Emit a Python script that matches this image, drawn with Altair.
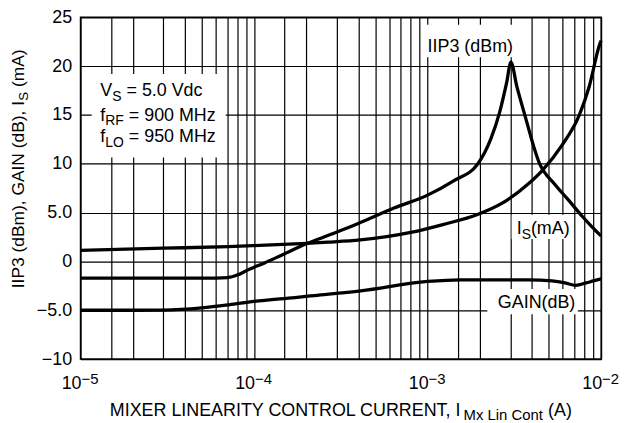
import altair as alt
import pandas as pd

FONT = "Liberation Sans"

# ---------------- data ----------------
iip3_x = [1e-5, 3e-5, 6e-5, 7.1e-5, 8.0e-5, 9.25e-5, 1.15e-4, 1.44e-4, 2.0e-4, 2.8e-4,
          3.95e-4, 6.4e-4, 1.0e-3, 1.42e-3, 1.94e-3, 2.32e-3, 2.6e-3, 2.85e-3, 3.02e-3,
          3.27e-3, 3.64e-3, 4.4e-3, 5.4e-3, 6.4e-3, 7.8e-3, 8.8e-3, 1e-2]
iip3_y = [-1.7, -1.7, -1.7, -1.65, -1.4, -0.85, -0.15, 0.64, 1.8, 2.8,
          3.85, 5.46, 6.79, 8.28, 9.95, 12.6, 15.26, 18.25, 20.4,
          17.9, 14.93, 10.1, 7.9, 6.4, 4.6, 3.6, 2.6]

is_x = [1e-5, 3e-5, 7.1e-5, 1e-4, 2e-4, 2.66e-4, 4.1e-4, 8e-4, 1.24e-3, 1.94e-3,
        2.69e-3, 3.81e-3, 4.56e-3, 5.97e-3, 7.46e-3, 8.54e-3, 9.8e-3, 1e-2]
is_y = [1.14, 1.35, 1.52, 1.62, 1.85, 1.97, 2.2, 2.97, 3.8, 4.8,
        5.96, 7.95, 9.28, 11.94, 14.93, 17.92, 22.2, 22.6]

gain_x = [1e-5, 2e-5, 3e-5, 5e-5, 7.16e-5, 1e-4, 1.72e-4, 2.23e-4, 4.12e-4, 1e-3,
          1.55e-3, 3.8e-3, 5.2e-3, 6.2e-3, 7.14e-3, 8.2e-3, 9e-3, 1e-2]
gain_y = [-5.0, -5.0, -4.98, -4.75, -4.44, -4.1, -3.7, -3.5, -3.02, -2.05,
          -1.88, -1.9, -2.0, -2.2, -2.45, -2.2, -2.0, -1.78]

decades = [1e-5, 1e-4, 1e-3, 1e-2]
exponents = ["\u22125", "\u22124", "\u22123", "\u22122"]
y_ticks = [-10, -5, 0, 5, 10, 15, 20, 25]
grid_mult = [1, 1.5, 2, 3, 4, 5, 6, 7, 8, 9]
x_grid = [m * d for d in decades[:3] for m in grid_mult] + [decades[3]]

# white label boxes (data coordinates)
box_x = [1.16e-5, 9.6e-4, 3.05e-3, 2.21e-3]
box_x2 = [6.87e-5, 3.1e-3, 6.83e-3, 7.34e-3]
box_y = [19.2, 24.23, 4.79, -2.82]
box_y2 = [10.64, 20.91, 2.3, -5.41]

# ---------------- layout ----------------
W, H = 524, 344
xsc = alt.Scale(type="log", domain=[1e-5, 1e-2], nice=False)
ysc = alt.Scale(domain=[-10, 25], nice=False)

grid_kw = dict(grid=True, gridColor="black", gridWidth=1.2, gridOpacity=1,
               ticks=False, domain=False, title=None)
y_label_expr = "datum.value == -5 ? '\u22125.0' : datum.value == 5 ? '5.0' : datum.label"
XAX = alt.Axis(values=x_grid, labels=False, **grid_kw)
YAX = alt.Axis(values=y_ticks, labelFont=FONT, labelFontSize=18, labelColor="black",
               labelPadding=9, labelExpr=y_label_expr, **grid_kw)

ARIAL = {' ': 278, '(': 333, ')': 333, ',': 278, '.': 278, '=': 584, '\u2212': 584,
         'A': 667, 'B': 667, 'C': 722, 'D': 722, 'E': 667, 'F': 611, 'G': 778, 'H': 722,
         'I': 278, 'L': 556, 'M': 833, 'N': 722, 'O': 778, 'P': 667, 'R': 722, 'S': 667,
         'T': 611, 'U': 722, 'V': 667, 'X': 667, 'Y': 667, 'a': 556, 'c': 500, 'd': 556,
         'f': 278, 'i': 222, 'm': 833, 'n': 556, 'o': 556, 't': 278, 'x': 500, 'z': 500}


def tw(s, size):
    return sum(ARIAL.get(c, 556) for c in s) * size / 1000.0


def seg(t, size, dx=0.0, dy=0.0, x=None, y=None, px=None, py=None, angle=0, align="left"):
    df = pd.DataFrame({"x": [x if x is not None else 1e-3],
                       "y": [y if y is not None else 0.0], "t": [t]})
    ex = alt.X("x:Q", scale=xsc, axis=XAX) if px is None else alt.value(px)
    ey = alt.Y("y:Q", scale=ysc, axis=YAX) if py is None else alt.value(py)
    kw = dict(align=align, baseline="alphabetic", font=FONT, fontSize=size,
              color="black", dx=dx, dy=dy)
    if angle:
        kw["angle"] = angle
    return alt.Chart(df).mark_text(**kw).encode(x=ex, y=ey, text="t:N")


def rich(parts, main, sub, sub_dy, center=False, **anchor):
    total = sum(tw(t, sub if s else main) for t, s in parts)
    off = -total / 2 if center else 0.0
    out = []
    for t, s in parts:
        size = sub if s else main
        stripped = t.lstrip(" ")
        lead = tw(t[:len(t) - len(stripped)], size)
        out.append(seg(stripped, size, dx=off + lead, dy=(sub_dy if s else 0), **anchor))
        off += tw(t, size)
    return out


# ---------------- layers ----------------
lines_df = pd.concat([
    pd.DataFrame({"x": iip3_x, "y": iip3_y, "s": "IIP3"}),
    pd.DataFrame({"x": is_x, "y": is_y, "s": "IS"}),
    pd.DataFrame({"x": gain_x, "y": gain_y, "s": "GAIN"}),
])

base = alt.Chart(lines_df).mark_line(color="black", strokeWidth=3.3,
                                     interpolate="monotone").encode(
    x=alt.X("x:Q", scale=xsc, axis=XAX),
    y=alt.Y("y:Q", scale=ysc, axis=YAX),
    detail="s:N",
)

boxes = alt.Chart(pd.DataFrame({"x": box_x, "x2": box_x2, "y": box_y, "y2": box_y2})).mark_rect(
    color="white").encode(
    x=alt.X("x:Q", scale=xsc, axis=XAX), x2="x2:Q",
    y=alt.Y("y:Q", scale=ysc, axis=YAX), y2="y2:Q")

MAIN, SUB, SDY = 18, 14, 5
texts = []
texts += rich([("V", 0), ("S", 1), (" = 5.0 Vdc", 0)], MAIN, SUB, SDY, x=1.30e-5, y=16.92)
texts += rich([("f", 0), ("RF", 1), (" = 900 MHz", 0)], MAIN, SUB, SDY, x=1.30e-5, y=14.43)
texts += rich([("f", 0), ("LO", 1), (" = 950 MHz", 0)], MAIN, SUB, SDY, x=1.30e-5, y=12.19)
texts += rich([("IIP3 (dBm)", 0)], MAIN, SUB, SDY, x=1.0e-3, y=21.41)
texts += rich([("I", 0), ("S", 1), ("(mA)", 0)], MAIN, SUB, SDY, x=3.26e-3, y=2.80)
texts += rich([("GAIN(dB)", 0)], MAIN, SUB, SDY, x=2.54e-3, y=-4.74)

# x axis tick labels 10^n
tick_df = pd.DataFrame({"x": decades, "base": ["10"] * 4, "e": exponents})
tick_base = alt.Chart(tick_df).mark_text(align="right", baseline="alphabetic", font=FONT,
                                         fontSize=18, color="black", dx=1).encode(
    x=alt.X("x:Q", scale=xsc, axis=XAX), y=alt.value(H + 30), text="base:N")
tick_exp = alt.Chart(tick_df).mark_text(align="left", baseline="alphabetic", font=FONT,
                                        fontSize=15, color="black", dx=1).encode(
    x=alt.X("x:Q", scale=xsc, axis=XAX), y=alt.value(H + 25), text="e:N")

# axis titles
texts += rich([("MIXER LINEARITY CONTROL CURRENT, I", 0), ("Mx Lin Cont", 1), (" (A)", 0)],
              18, 15, 4, center=True, px=W / 2, py=H + 57.5)
texts += rich([("IIP3 (dBm), GAIN (dB), I", 0), ("S", 1), (" (mA)", 0)],
              17.5, 13.5, 4, center=True, px=-57, py=152.5, angle=270)

chart = alt.layer(base, boxes, *texts, tick_base, tick_exp).properties(
    width=W, height=H,
    background="white",
    autosize=alt.AutoSizeParams(type="none"),
    padding={"left": 73, "top": 8, "right": 20, "bottom": 63},
).configure_view(stroke="black", strokeWidth=1.5)

chart.save("out.html", embed_options={"renderer": "svg", "actions": False})
